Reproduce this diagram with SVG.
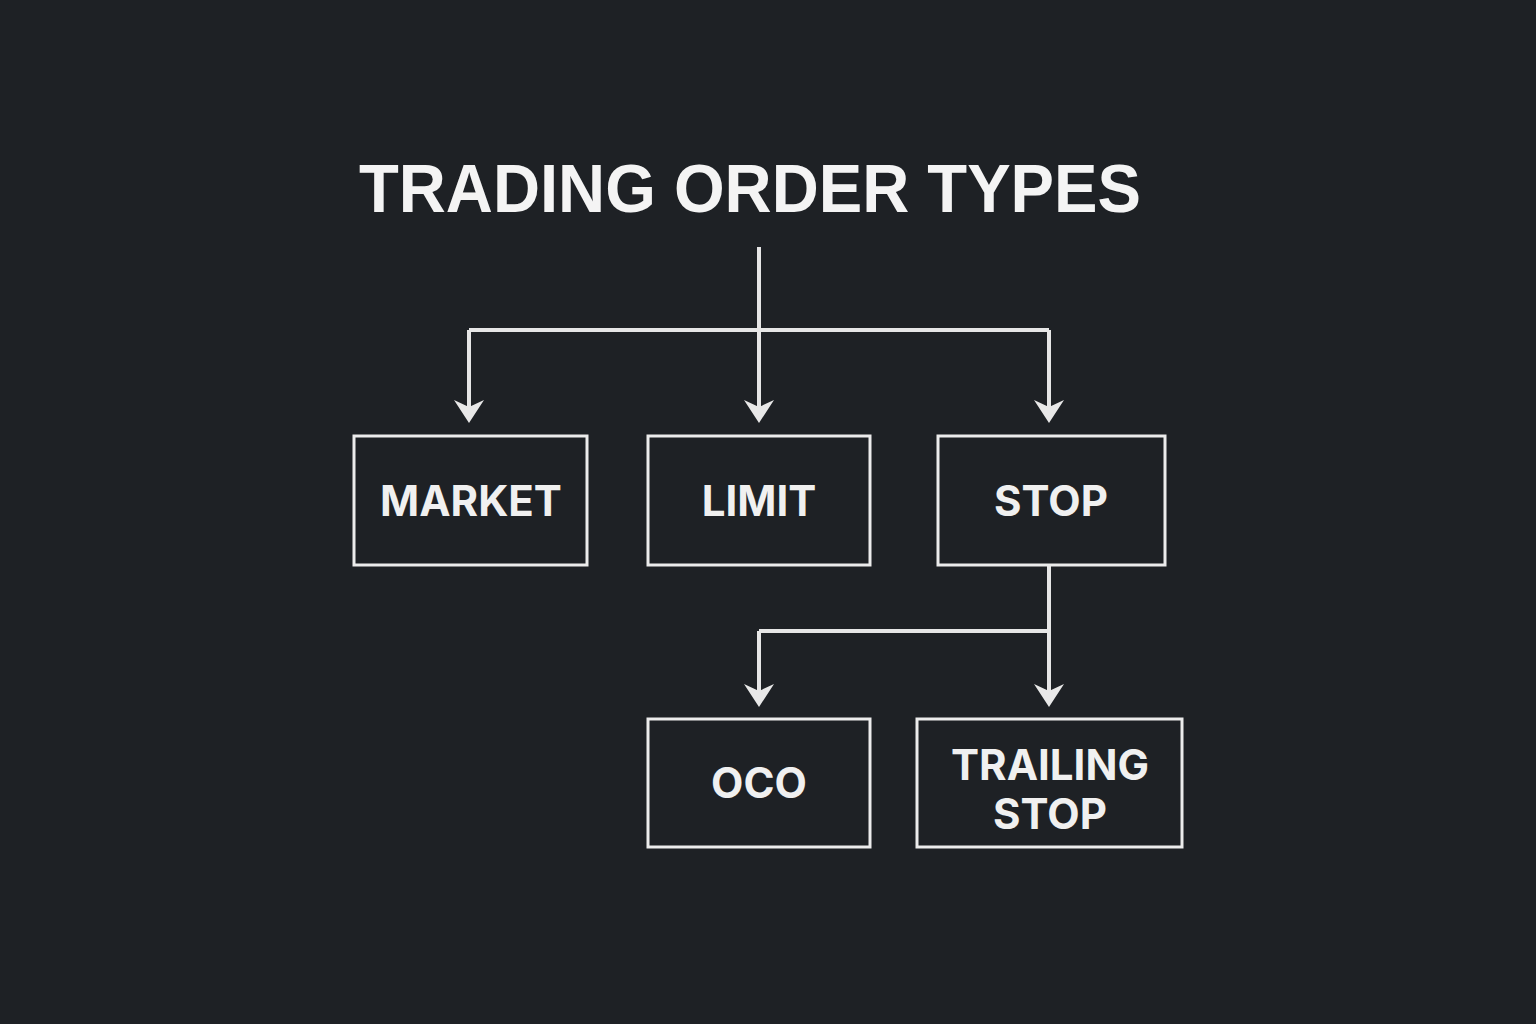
<svg xmlns="http://www.w3.org/2000/svg" width="1536" height="1024" viewBox="0 0 1536 1024">
<defs>
<style>
.bg{fill:#1e2125}
.box{fill:#1e2125;stroke:#ececec;stroke-width:3}
.line{fill:none;stroke:#e6e6e6;stroke-width:4}
.head{fill:#e8e8e8}
.lbl{fill:#f0f0f0;font-family:Inter,"Liberation Sans",sans-serif;font-weight:700;font-size:42px;text-anchor:middle}
.title{fill:#f4f4f4;font-family:"Liberation Sans",Arial,sans-serif;font-weight:700;font-size:68px;text-anchor:middle}
</style>
</defs>
<rect class="bg" x="0" y="0" width="1536" height="1024"/>
<text class="title" x="750" y="212" textLength="782" lengthAdjust="spacingAndGlyphs">TRADING ORDER TYPES</text>
<g id="connectors">
<path class="line" d="M759,247 V330"/>
<path class="line" d="M469,330 H1049"/>
<path class="line" d="M469,330 V408"/>
<path class="line" d="M759,330 V408"/>
<path class="line" d="M1049,330 V408"/>
<path class="line" d="M1049,565 V692"/>
<path class="line" d="M759,631 H1049"/>
<path class="line" d="M759,631 V692"/>
<path class="head" d="M454,400 L469,423 L484,400 L469,407 Z"/>
<path class="head" d="M744,400 L759,423 L774,400 L759,407 Z"/>
<path class="head" d="M1034,400 L1049,423 L1064,400 L1049,407 Z"/>
<path class="head" d="M744,684 L759,707 L774,684 L759,691 Z"/>
<path class="head" d="M1034,684 L1049,707 L1064,684 L1049,691 Z"/>
</g>
<g id="market">
<rect class="box" x="354" y="436" width="233" height="129"/>
<text class="lbl" x="471" y="516">MARKET</text>
</g>
<g id="limit">
<rect class="box" x="648" y="436" width="222" height="129"/>
<text class="lbl" x="759" y="516">LIMIT</text>
</g>
<g id="stop">
<rect class="box" x="938" y="436" width="227" height="129"/>
<text class="lbl" x="1051" y="516">STOP</text>
</g>
<g id="oco">
<rect class="box" x="648" y="719" width="222" height="128"/>
<text class="lbl" x="759" y="798">OCO</text>
</g>
<g id="trailing-stop">
<rect class="box" x="917" y="719" width="265" height="128"/>
<text class="lbl" x="1050" y="780">TRAILING</text>
<text class="lbl" x="1050" y="829">STOP</text>
</g>
</svg>
